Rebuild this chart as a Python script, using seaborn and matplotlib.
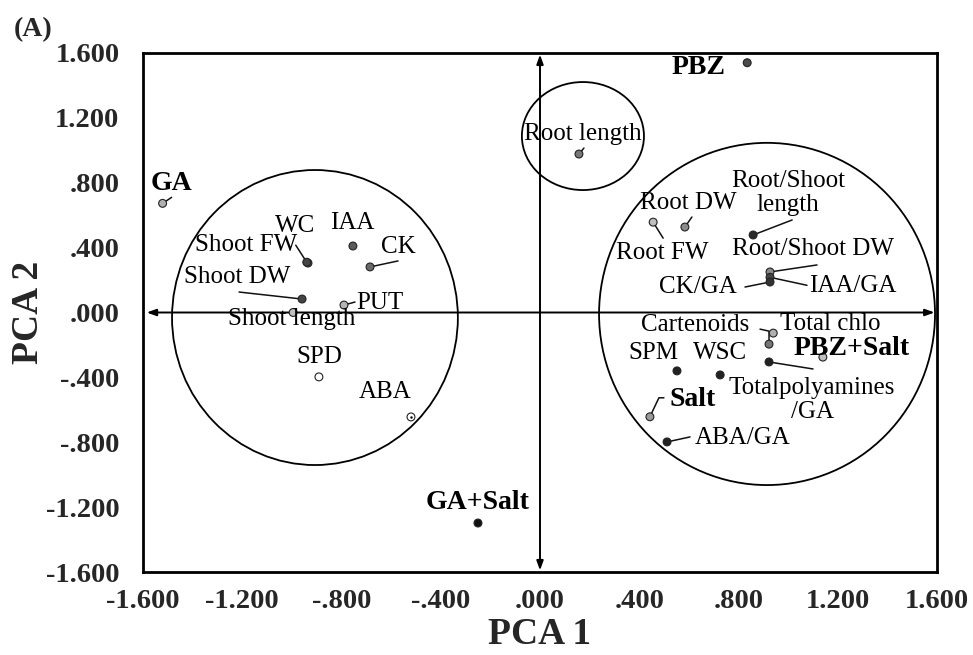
import numpy as np
import pandas as pd
import matplotlib
matplotlib.use("Agg")
import matplotlib.pyplot as plt
from matplotlib.patches import Ellipse
from matplotlib.ticker import FixedLocator, FuncFormatter
import seaborn as sns

# ---------------- data ----------------
names = ["GA", "WC", "Shoot FW", "IAA", "CK", "Shoot DW", "PUT", "Shoot length",
         "SPD", "ABA", "Root length", "PBZ", "Root FW", "Root DW",
         "Root/Shoot\nlength", "Root/Shoot DW", "IAA/GA", "CK/GA", "Total chlo",
         "Cartenoids", "PBZ+Salt", "Totalpolyamines\n/GA", "SPM", "WSC", "Salt",
         "ABA/GA", "GA+Salt"]
pc1 = [-1.521, -0.935, -0.940, -0.754, -0.685, -0.959, -0.790, -0.995,
       -0.891, -0.520, 0.157, 0.835, 0.456, 0.584,
       0.859, 0.927, 0.927, 0.927, 0.940,
       0.923, 1.140, 0.923, 0.552, 0.726, 0.443,
       0.512, -0.250]
pc2 = [0.673, 0.305, 0.310, 0.410, 0.281, 0.083, 0.046, 0.000,
       -0.397, -0.644, 0.977, 1.540, 0.557, 0.527,
       0.478, 0.250, 0.217, 0.188, -0.127,
       -0.195, -0.275, -0.305, -0.360, -0.385, -0.643,
       -0.798, -1.298]
treatments = ["GA", "PBZ", "GA+Salt", "PBZ+Salt", "Salt"]
ticks = [-1.6, -1.2, -0.8, -0.4, 0.0, 0.4, 0.8, 1.2, 1.6]

df = pd.DataFrame({"name": names, "PCA 1": pc1, "PCA 2": pc2})

# ---------------- styles ----------------
point_colors = {
    "GA": "#b0b0b0", "WC": "#555555", "Shoot FW": "#444444", "IAA": "#5a5a5a",
    "CK": "#6a6a6a", "Shoot DW": "#444444", "PUT": "#b5b5b5", "Shoot length": "#c0c0c0",
    "SPD": "#ffffff", "ABA": "#ffffff", "Root length": "#777777", "PBZ": "#4a4a4a",
    "Root FW": "#c0c0c0", "Root DW": "#8a8a8a", "Root/Shoot\nlength": "#2a2a2a",
    "Root/Shoot DW": "#8a8a8a", "IAA/GA": "#444444", "CK/GA": "#333333",
    "Total chlo": "#b0b0b0", "Cartenoids": "#777777", "PBZ+Salt": "#c0c0c0",
    "Totalpolyamines\n/GA": "#222222", "SPM": "#222222", "WSC": "#222222",
    "Salt": "#9a9a9a", "ABA/GA": "#222222", "GA+Salt": "#111111",
}
# label offsets from the point, in pixels (dx right, dy down)
label_off = {
    "GA": (9, -20), "WC": (-13, -37), "Shoot FW": (-61, -17), "IAA": (-1, -23),
    "CK": (28, -20), "Shoot DW": (-65, -22), "PUT": (36, -2), "Shoot length": (-1, 7),
    "SPD": (0, -20), "ABA": (-26, -25), "Root length": (4, -20), "PBZ": (-49, 5),
    "Root FW": (9, 31), "Root DW": (3, -24), "Root/Shoot\nlength": (35, -42),
    "Root/Shoot DW": (43, -23), "IAA/GA": (83, 9), "CK/GA": (-72, 5),
    "Total chlo": (57, -9), "Cartenoids": (-74, -19), "PBZ+Salt": (29, -9),
    "Totalpolyamines\n/GA": (43, 38), "SPM": (-24, -18), "WSC": (0, -22),
    "Salt": (43, -17), "ABA/GA": (76, -4), "GA+Salt": (0, -21),
}
# leader line vertices as pixel offsets from the point
leaders = {
    "GA": [(9, -6)], "Shoot FW": [(-11, -17)], "CK": [(28, -6)],
    "Shoot DW": [(-63, -7)], "PUT": [(11, -3)], "Root length": [(5, -6)],
    "Root FW": [(10, 16)], "Root DW": [(7, -10)], "Root/Shoot\nlength": [(39, -15)],
    "Root/Shoot DW": [(47, -7)], "IAA/GA": [(37, 8)], "CK/GA": [(-25, 5)],
    "Cartenoids": [(0, -13), (-9, -15)], "Totalpolyamines\n/GA": [(44, 7)],
    "Salt": [(9, -19), (14, -19)], "ABA/GA": [(23, -5)],
}

plt.rcParams["font.family"] = ["Liberation Serif", "DejaVu Serif"]
sns.set_style("white")
plt.rcParams["font.family"] = ["Liberation Serif", "DejaVu Serif"]

fig = plt.figure(figsize=(9.73, 6.55), dpi=100)
ax = fig.add_axes([143 / 973, 1 - 572 / 655, (937 - 143) / 973, (572 - 53) / 655])
ax.set_xlim(-1.6, 1.6)
ax.set_ylim(-1.6, 1.6)

# circles grouping the variables
for (cx, cy, w, h) in [(-0.907, -0.031, 1.152, 1.819),
                       (0.173, 1.088, 0.492, 0.666),
                       (0.915, -0.009, 1.354, 2.110)]:
    ax.add_patch(Ellipse((cx, cy), w, h, fill=False, ec="black", lw=1.3, zorder=2))

# double-headed axis arrows
arrow_kw = dict(arrowstyle="<|-|>,head_length=0.55,head_width=0.2", lw=1.4,
                color="black", shrinkA=0, shrinkB=0)
ax.annotate("", xy=(-1.585, 0), xytext=(1.59, 0), arrowprops=arrow_kw, zorder=1)
ax.annotate("", xy=(0, -1.59), xytext=(0, 1.59), arrowprops=arrow_kw, zorder=1)


def shift(x, y, dx, dy):
    px, py = ax.transData.transform((x, y))
    s = fig.dpi / 100.0
    return ax.transData.inverted().transform((px + dx * s, py - dy * s))


# leader lines
for n, x, y in zip(names, pc1, pc2):
    if n in leaders:
        pts = [(x, y)] + [tuple(shift(x, y, dx, dy)) for dx, dy in leaders[n]]
        xs, ys = zip(*pts)
        ax.plot(xs, ys, color="#111111", lw=1.1, zorder=3)

sns.scatterplot(data=df, x="PCA 1", y="PCA 2", hue="name", palette=point_colors,
                s=32, edgecolor="#222222", linewidth=0.8, legend=False, ax=ax, zorder=4)
sns.scatterplot(data=df[df["name"] == "ABA"], x="PCA 1", y="PCA 2", color="black",
                s=3, linewidth=0, legend=False, ax=ax, zorder=5)

for n, x, y in zip(names, pc1, pc2):
    dx, dy = label_off[n]
    bold = n in treatments
    ax.annotate(n, xy=(x, y), xytext=(dx, -dy), textcoords="offset pixels",
                ha="center", va="center", ma="center", linespacing=1.08,
                fontsize=20 if bold else 18, fontweight="bold" if bold else "normal",
                color="black", zorder=6)


def fmt_tick(v, p):
    if abs(v) < 1:
        return ("-" if v < -1e-9 else "") + f"{abs(v):.3f}".lstrip("0")
    return f"{v:.3f}"


for axis in (ax.xaxis, ax.yaxis):
    axis.set_major_locator(FixedLocator(ticks))
    axis.set_major_formatter(FuncFormatter(fmt_tick))
ax.tick_params(axis="x", length=0, pad=12, labelsize=20.5)
ax.tick_params(axis="y", length=0, pad=17, labelsize=20.5)
for lab in ax.get_xticklabels() + ax.get_yticklabels():
    lab.set_fontweight("bold")

for sp in ax.spines.values():
    sp.set_visible(True)
    sp.set_linewidth(2.0)
    sp.set_color("black")

ax.set_xlabel("PCA 1", fontsize=27, fontweight="bold", va="center")
ax.set_ylabel("PCA 2", fontsize=27, fontweight="bold", va="center")
ax.xaxis.set_label_coords(0.5, -(635 - 572) / 519)
ax.yaxis.set_label_coords(-(143 - 29) / 794, 0.5)
fig.text(33 / 973, 1 - 30 / 655, "(A)", fontsize=20, fontweight="bold",
         ha="center", va="center")

fig.savefig("out.png", dpi=100)
